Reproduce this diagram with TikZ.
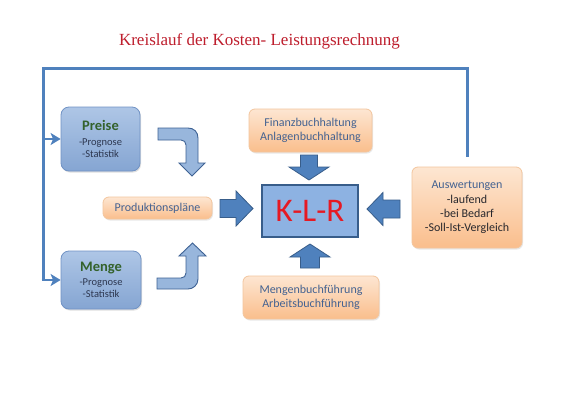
\documentclass[tikz,border=0pt]{standalone}
\usepackage{fontspec}
\setmainfont{Carlito}
\newfontfamily\titlefont{Liberation Serif}
\usetikzlibrary{arrows.meta,shadows,calc}
\definecolor{loopblue}{RGB}{79,129,189}
\definecolor{bluetop}{RGB}{174,198,230}
\definecolor{bluebot}{RGB}{133,165,210}
\definecolor{bluedraw}{RGB}{112,146,196}
\definecolor{orangetop}{RGB}{253,230,210}
\definecolor{orangebot}{RGB}{250,190,140}
\definecolor{orangedraw}{RGB}{243,198,158}
\definecolor{textblue}{RGB}{68,98,145}
\definecolor{textdark}{RGB}{40,40,45}
\definecolor{subdark}{RGB}{45,55,80}
\definecolor{greentitle}{RGB}{52,98,44}
\definecolor{klrfill}{RGB}{141,178,226}
\definecolor{klrdraw}{RGB}{56,93,138}
\definecolor{klrred}{RGB}{230,25,35}
\definecolor{darkarrow}{RGB}{79,129,189}
\definecolor{darkarrowdraw}{RGB}{56,93,138}
\definecolor{curvefill}{RGB}{152,182,220}
\definecolor{curvedraw}{RGB}{62,98,148}
\definecolor{titlered}{RGB}{190,30,45}
\tikzset{
  bluebox/.style={rounded corners=8pt, draw=bluedraw, line width=0.8pt,
    top color=bluetop, bottom color=bluebot,
    drop shadow={opacity=0.25, shadow xshift=1pt, shadow yshift=-1.5pt},
    align=center, inner sep=0pt},
  orangebox/.style={rounded corners=6pt, draw=orangedraw, line width=0.8pt,
    top color=orangetop, bottom color=orangebot,
    drop shadow={opacity=0.18, shadow xshift=1pt, shadow yshift=-1.5pt},
    align=center, inner sep=0pt, text=textblue,
    font=\fontsize{12}{14.3}\selectfont},
  klrbox/.style={draw=klrdraw, line width=1.4pt, fill=klrfill,
    inner sep=0pt, text=klrred, font=\fontsize{33}{36}\selectfont},
  loopline/.style={draw=loopblue, line width=3pt},
  looparrow/.style={loopblue, line width=2.6pt, -{Stealth[length=10pt,width=12pt,inset=2.5pt]}},
  darkblk/.style={fill=darkarrow, draw=darkarrowdraw, line width=0.8pt, line join=miter},
  curveblk/.style={fill=curvefill, draw=curvedraw, line width=0.9pt, line join=miter},
  pics/blkarrow/.style n args={4}{code={
    \path[darkblk] (0,-#2) -- ({#1-#4},-#2) -- ({#1-#4},-#3) -- (#1,0)
      -- ({#1-#4},#3) -- ({#1-#4},#2) -- (0,#2) -- cycle;}}
}
\begin{document}
\begin{tikzpicture}[x=1pt,y=-1pt]
\useasboundingbox (0,0) rectangle (574,400);
\fill[white] (0,0) rectangle (574,400);

% title
\node[text=titlered, font=\titlefont\fontsize{17}{20}\selectfont] (title) at (259.5,41) {Kreislauf der Kosten- Leistungsrechnung};

% boxes
\node[bluebox, minimum width=79pt, minimum height=64pt] (preise) at (100.5,139)
  {{\fontsize{14.5}{15}\selectfont\bfseries\color{greentitle}Preise}\\[2.5pt]
   {\fontsize{10.5}{12}\selectfont\color{subdark}-Prognose}\\[0.5pt]
   {\fontsize{10.5}{12}\selectfont\color{subdark}-Statistik}};
\node[bluebox, minimum width=80pt, minimum height=58pt] (menge) at (101,280)
  {{\fontsize{14.5}{15}\selectfont\bfseries\color{greentitle}Menge}\\[1.5pt]
   {\fontsize{10.5}{12}\selectfont\color{subdark}-Prognose}\\[0.5pt]
   {\fontsize{10.5}{12}\selectfont\color{subdark}-Statistik}};
\node[orangebox, minimum width=109pt, minimum height=22pt] (prod) at (157.5,208) {Produktionspläne};
\node[klrbox, minimum width=96pt, minimum height=52pt] (klr) at (310,211) {K-L-R};
\node[orangebox, minimum width=123pt, minimum height=43pt] (finanz) at (310.5,130.5)
  {Finanzbuchhaltung\\Anlagenbuchhaltung};
\node[orangebox, minimum width=136pt, minimum height=43pt] (mengenb) at (311,297.5)
  {Mengenbuchführung\\Arbeitsbuchführung};
\node[orangebox, minimum width=110pt, minimum height=81pt] (ausw) at (467,207.5)
  {Auswertungen\\{\color{textdark}-laufend}\\{\color{textdark}-bei Bedarf}\\{\color{textdark}-Soll-Ist-Vergleich}};

% feedback loop
\coordinate (lx) at (43,68);
\draw[loopline] ([yshift=10pt]ausw.north) |- (lx) -- ([yshift=-1.3pt]lx |- menge.west);
\draw[looparrow] (lx |- preise.west) -- (preise.west);
\draw[looparrow] ([xshift=-1.3pt]lx |- menge.west) -- (menge.west);

% straight block arrows
\pic at (220,208.5) {blkarrow={33}{9}{17.5}{17}};
\pic[rotate=-90] at (309,155) {blkarrow={25}{8.5}{20}{13}};
\pic[rotate=90] at (310,268) {blkarrow={24}{9.5}{20}{13}};
\pic[rotate=180] at (400,209) {blkarrow={33}{9}{16.5}{16}};

% curved arrows
\path[curveblk] (158,128) -- (188,128) .. controls (194,128) and (198,132) .. (198,138)
  -- (198,163) -- (205,163) -- (192,176) -- (179,163) -- (186,163) -- (186,145)
  .. controls (186,142) and (184,140) .. (181,140) -- (158,140) -- cycle;
\path[curveblk] (157,289) -- (188,289) .. controls (193,289) and (198,285) .. (198,279)
  -- (198,256) -- (206,256) -- (192.5,243) -- (179,256) -- (186,256) -- (186,273)
  .. controls (186,276) and (184,278) .. (181,278) -- (157,278) -- cycle;
\end{tikzpicture}
\end{document}
